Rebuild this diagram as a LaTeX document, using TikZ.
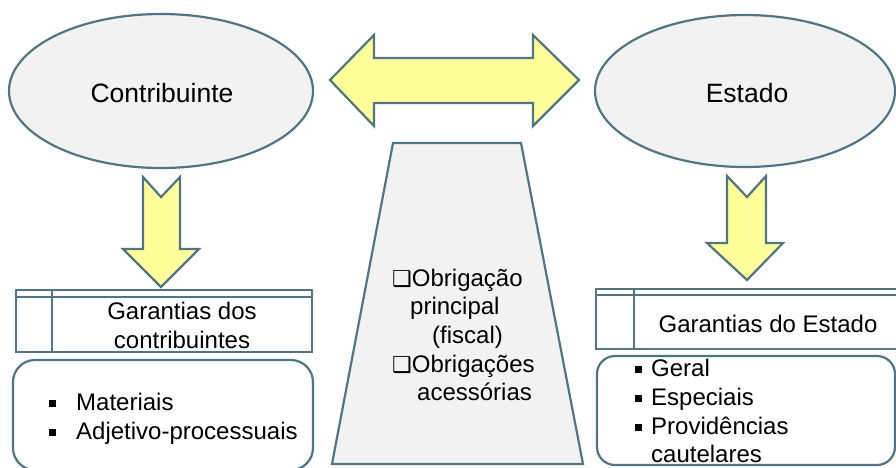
\documentclass[tikz,border=0pt]{standalone}
\usepackage{fontspec}
\setmainfont{Liberation Sans}
\newfontfamily\dv{DejaVu Sans}
\definecolor{edge}{HTML}{527483}
\definecolor{shade}{HTML}{F2F2F2}
\definecolor{yel}{HTML}{FFFF99}
\newcommand{\bul}{\raisebox{3.5pt}{\rule{7pt}{7pt}}}
\newcommand{\boxglyph}{{\dv\fontsize{22}{22}\selectfont ❑}}
\begin{document}
\begin{tikzpicture}[x=1pt,y=-1pt,
  outl/.style={draw=edge,line width=2.2pt,line join=miter},
  blockarrow/.style={outl,fill=yel},
  txt/.style={inner sep=0pt,font=\fontsize{24}{28.8}\selectfont},
  bigtxt/.style={inner sep=0pt,font=\fontsize{26.5}{30}\selectfont}]
\useasboundingbox (0,0) rectangle (896,467);
% ellipses
\draw[outl,fill=shade] (161,91) ellipse [x radius=152,y radius=77];
\node[bigtxt] (contrib) at (162,93) {Contribuinte};
\draw[outl,fill=shade] (745,91) ellipse [x radius=150,y radius=76];
\node[bigtxt] (estado) at (747,93) {Estado};
% double arrow
\draw[blockarrow] (330,80) -- (374,35) -- (374,58) -- (533,58) -- (533,35) -- (579,80)
  -- (533,126) -- (533,103) -- (374,103) -- (374,126) -- cycle;
% down arrows
\draw[blockarrow] (143,177) -- (161,197) -- (180,177) -- (180,249) -- (199,249) -- (161,287)
  -- (123,249) -- (143,249) -- cycle;
\draw[blockarrow] (727,176) -- (747,197) -- (766,176) -- (766,243) -- (783,243) -- (747,280)
  -- (707,243) -- (727,243) -- cycle;
% trapezoid
\draw[outl,fill=shade] (393,143) -- (521,143) -- (583,464) -- (332,464) -- cycle;
\node[txt,anchor=base west] (t1) at (392,286) {\boxglyph Obrigação};
\node[txt,anchor=base west] (t2) at (410,314.7) {principal};
\node[txt,anchor=base west] (t3) at (432,343.4) {(fiscal)};
\node[txt,anchor=base west] (t4) at (392,372) {\boxglyph Obrigações};
\node[txt,anchor=base west] (t5) at (417,400.8) {acessórias};
% left header
\draw[outl,fill=white] (16,290) rectangle (312,352);
\draw[outl] (16,297) -- (312,297);
\draw[outl] (52,290) -- (52,352);
\node[txt,anchor=base] (gc1) at (182,319) {Garantias dos};
\node[txt,anchor=base] (gc2) at (182,348) {contribuintes};
% left list box
\draw[outl,fill=white,rounded corners=22pt] (13,360) rectangle (313,470);
\node[txt,anchor=base west] (l1) at (49,410) {\bul\hspace{20pt}Materiais};
\node[txt,anchor=base west] (l2) at (49,439) {\bul\hspace{20pt}Adjetivo-processuais};
% right header
\draw[outl,fill=white] (596,289) rectangle (900,349);
\draw[outl] (596,295) -- (900,295);
\draw[outl] (634,289) -- (634,349);
\node[txt,anchor=base] (ge) at (768,332.7) {Garantias do Estado};
% right list box
\draw[outl,fill=white,rounded corners=18pt] (597,356) rectangle (895,465);
\node[txt,anchor=base west] (r1) at (635,376.7) {\bul\hspace{9pt}Geral};
\node[txt,anchor=base west] (r2) at (635,405.5) {\bul\hspace{9pt}Especiais};
\node[txt,anchor=base west] (r3) at (635,434.2) {\bul\hspace{9pt}Providências};
\node[txt,anchor=base west] (r4) at (651,462.7) {cautelares};
\end{tikzpicture}
\end{document}
